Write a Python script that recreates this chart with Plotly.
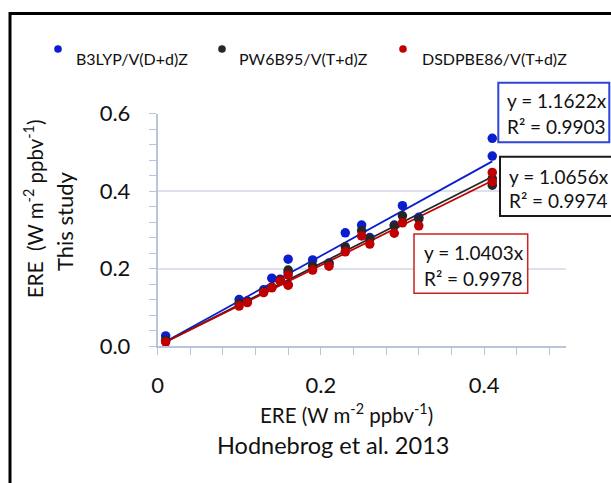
import plotly.graph_objects as go

# ---------------- data ----------------
X_REF = [0.01, 0.10, 0.11, 0.13, 0.14, 0.15, 0.16, 0.16, 0.19, 0.21, 0.23, 0.25, 0.26, 0.29, 0.30, 0.32, 0.41, 0.41]
B3LYP = [0.026, 0.120, 0.116, 0.145, 0.175, 0.172, 0.224, 0.190, 0.222, 0.214, 0.292, 0.312, 0.280, 0.312, 0.362, 0.332, 0.536, 0.490]
PW6B95 = [0.015, 0.110, 0.114, 0.140, 0.152, 0.170, 0.196, 0.158, 0.207, 0.213, 0.256, 0.298, 0.276, 0.310, 0.336, 0.328, 0.432, 0.415]
DSDPBE86 = [0.010, 0.103, 0.112, 0.138, 0.150, 0.168, 0.183, 0.157, 0.196, 0.206, 0.243, 0.284, 0.263, 0.291, 0.318, 0.310, 0.448, 0.424]

SERIES_NAMES = ["B3LYP/V(D+d)Z", "PW6B95/V(T+d)Z", "DSDPBE86/V(T+d)Z"]
SERIES_VALUES = [B3LYP, PW6B95, DSDPBE86]
SLOPES = [1.1622, 1.0656, 1.0403]
R2 = [0.9903, 0.9974, 0.9978]
X_TICK_LABELS = ["0", "0.2", "0.4"]
Y_TICK_LABELS = ["0.0", "0.2", "0.4", "0.6"]

# ---------------- style ----------------
W, H = 611, 483
COLORS = ["#0a1ecf", "#262626", "#c00000"]
BOX_COLORS = ["#2f45d6", "#1a1a1a", "#cc2222"]
FONT = "Lato"
AXIS_COL = "#b7c4da"
GRID_COL = "#dde1ea"


def px(x):
    return x / W


def py(y):
    return 1 - y / H


fig = go.Figure()

xmin, xmax = min(X_REF), max(X_REF)
for name, vals, col, k in zip(SERIES_NAMES, SERIES_VALUES, COLORS, SLOPES):
    fig.add_trace(go.Scatter(
        x=[xmin, xmax], y=[k * xmin, k * xmax], mode="lines",
        line=dict(color=col, width=1.75), showlegend=False, hoverinfo="skip"))
for name, vals, col in zip(SERIES_NAMES, SERIES_VALUES, COLORS):
    fig.add_trace(go.Scatter(
        x=X_REF, y=vals, mode="markers", name=name,
        marker=dict(color=col, size=9.5, line=dict(width=0)),
        cliponaxis=False, showlegend=False))

shapes = []
annotations = []

# outer frame
shapes.append(dict(type="rect", xref="paper", yref="paper",
                   x0=px(10), x1=px(W + 20), y0=py(13.5), y1=py(H + 20),
                   line=dict(color="black", width=3), fillcolor="rgba(0,0,0,0)", layer="above"))

# manual legend
leg_dot_x = [58, 222, 403]
leg_txt_x = [74, 237, 420]
for name, col, dx, tx in zip(SERIES_NAMES, COLORS, leg_dot_x, leg_txt_x):
    r = 3.8
    shapes.append(dict(type="circle", xref="paper", yref="paper",
                       x0=px(dx - r), x1=px(dx + r), y0=py(49 + r), y1=py(49 - r),
                       fillcolor=col, line=dict(width=0)))
    annotations.append(dict(text=name, xref="paper", yref="paper", x=px(tx), y=py(59),
                            xanchor="left", yanchor="middle", showarrow=False,
                            font=dict(family=FONT, size=16, color="#111")))

# trendline label boxes
boxes = [  # x0, x1, y0, y1, text-left, line1 y, line2 y, border width
    (498.3, 609.3, 82.7, 142.3, 505, 100.7, 126.7, 2),
    (500, 640, 156.7, 216, 507.3, 176, 200.5, 2),
    (414, 527.7, 234, 293.3, 421.7, 252.7, 278.3, 1.5),
]
for (x0, x1, y0, y1, tx, l1, l2, bw), k, r2, bc in zip(boxes, SLOPES, R2, BOX_COLORS):
    shapes.append(dict(type="rect", xref="paper", yref="paper",
                       x0=px(x0), x1=px(x1), y0=py(y0), y1=py(y1),
                       line=dict(color=bc, width=bw), fillcolor="white", layer="above"))
    annotations.append(dict(text=f"y = {k:.4f}x", xref="paper", yref="paper", x=px(tx), y=py(l1),
                            xanchor="left", yanchor="middle", showarrow=False,
                            font=dict(family=FONT, size=19, color="#111")))
    annotations.append(dict(text=f"R² = {r2:.4f}", xref="paper", yref="paper", x=px(tx), y=py(l2),
                            xanchor="left", yanchor="middle", showarrow=False,
                            font=dict(family=FONT, size=19, color="#111")))

# axis titles
annotations.append(dict(text="ERE  (W m<sup>-2</sup> ppbv<sup>-1</sup>)", xref="paper", yref="paper",
                        x=px(33), y=py(209), textangle=-90, showarrow=False,
                        xanchor="center", yanchor="middle",
                        font=dict(family=FONT, size=20.5, color="#111")))
annotations.append(dict(text="This study", xref="paper", yref="paper",
                        x=px(65), y=py(221), textangle=-90, showarrow=False,
                        xanchor="center", yanchor="middle",
                        font=dict(family=FONT, size=22, color="#111")))
annotations.append(dict(text="ERE (W m<sup>-2</sup> ppbv<sup>-1</sup>)", xref="paper", yref="paper",
                        x=px(346), y=py(413), showarrow=False,
                        xanchor="center", yanchor="middle",
                        font=dict(family=FONT, size=20.5, color="#111")))
annotations.append(dict(text="Hodnebrog et al. 2013", xref="paper", yref="paper",
                        x=px(333), y=py(445), showarrow=False,
                        xanchor="center", yanchor="middle",
                        font=dict(family=FONT, size=23.5, color="#111")))

fig.update_layout(
    width=W, height=H,
    margin=dict(l=0, r=0, t=0, b=0),
    paper_bgcolor="white", plot_bgcolor="white",
    showlegend=False,
    shapes=shapes, annotations=annotations,
    xaxis=dict(
        domain=[px(157.5), px(565.75)], range=[0, 0.5], automargin=False,
        tickmode="array", tickvals=[0, 0.2, 0.4], ticktext=X_TICK_LABELS,
        ticks="outside", ticklen=7, tickcolor=AXIS_COL, tickwidth=1.3,
        minor=dict(dtick=0.04, tick0=0, ticks="outside", ticklen=7, tickcolor=AXIS_COL, tickwidth=1.3, showgrid=False),
        showline=True, linecolor=AXIS_COL, linewidth=1.5,
        showgrid=False, zeroline=False,
        tickfont=dict(family=FONT, size=22, color="#111"),
        ticklabelstandoff=12,
    ),
    yaxis=dict(
        domain=[py(346), py(113.5)], range=[0, 0.6], automargin=False,
        tickmode="array", tickvals=[0, 0.2, 0.4, 0.6], ticktext=Y_TICK_LABELS,
        ticks="outside", ticklen=7, tickcolor=AXIS_COL, tickwidth=1.3,
        minor=dict(dtick=0.04, tick0=0, ticks="outside", ticklen=7, tickcolor=AXIS_COL, tickwidth=1.3, showgrid=False),
        showline=True, linecolor=AXIS_COL, linewidth=1.5,
        showgrid=True, gridcolor=GRID_COL, gridwidth=1.5, zeroline=False,
        tickfont=dict(family=FONT, size=22, color="#111"),
        ticklabelstandoff=14,
    ),
)

fig.write_html("out.html", config={"displayModeBar": False},
               post_script="document.body.style.margin='0';document.body.style.overflow='hidden';")
